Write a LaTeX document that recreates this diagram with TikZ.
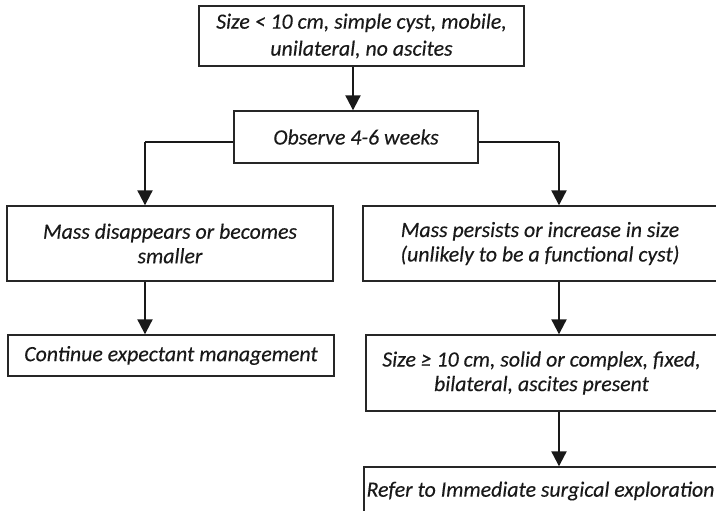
\documentclass[tikz,border=0pt]{standalone}
\usepackage{fontspec}
\setmainfont{Carlito}
\newfontfamily\boxfont{Carlito}[ItalicFeatures={FakeBold=0.25}]
\usetikzlibrary{arrows.meta}
\begin{document}
\begin{tikzpicture}[x=1pt,y=-1pt,
  box/.style={draw=black!85, line width=1.4pt, rectangle, inner sep=0pt,
    align=center, text=black!90,
    font=\boxfont\fontsize{21.8}{24.5}\selectfont\itshape},
  link/.style={draw=black!90, line width=2.2pt,
    -{Triangle[length=15pt,width=15pt]}},
  plain/.style={draw=black!90, line width=2.2pt}]
  \useasboundingbox (0,0) rectangle (716,511);
  \fill[white] (0,0) rectangle (716,511);
  \clip (0,0) rectangle (716,511);

  % boxes
  \node[box, minimum width=325pt, minimum height=60pt] (top) at (361.5,36)
    {Size < 10 cm, simple cyst, mobile,\\[2.5pt] unilateral, no ascites};
  \node[box, minimum width=244pt, minimum height=52pt] (obs) at (356,137)
    {Observe 4-6 weeks};
  \node[box, minimum width=326pt, minimum height=75pt] (l1) at (170,243.5)
    {Mass disappears or becomes\\ smaller};
  \node[box, minimum width=326pt, minimum height=41pt] (l2) at (171,355.5)
    {Continue expectant management};
  \node[box, minimum width=354pt, minimum height=75pt] (r1) at (540,243.5)
    {Mass persists or increase in size\\ (unlikely to be a functional cyst)};
  \node[box, minimum width=351pt, minimum height=76pt] (r2) at (541.5,373)
    {Size ≥ 10 cm, solid or complex, fixed,\\ bilateral, ascites present};
  \node[box, minimum width=353pt, minimum height=48pt] (r3) at (540.5,491)
    {Refer to Immediate surgical exploration};

  % branch points
  \coordinate (jl) at (145,142);
  \coordinate (jr) at (559,142);
  \coordinate (tx) at (353,0);

  % connectors
  \draw[link] (top.south -| tx) -- (obs.north -| tx);
  \draw[plain] (obs.west |- jl) -- (jl);
  \draw[plain] (obs.east |- jr) -- (jr);
  \draw[link] (jl) -- (l1.north -| jl);
  \draw[link] (jr) -- (r1.north -| jr);
  \draw[link] (l1.south -| jl) -- (l2.north -| jl);
  \draw[link] (r1.south -| jr) -- (r2.north -| jr);
  \draw[link] (r2.south -| jr) -- (r3.north -| jr);
\end{tikzpicture}
\end{document}
